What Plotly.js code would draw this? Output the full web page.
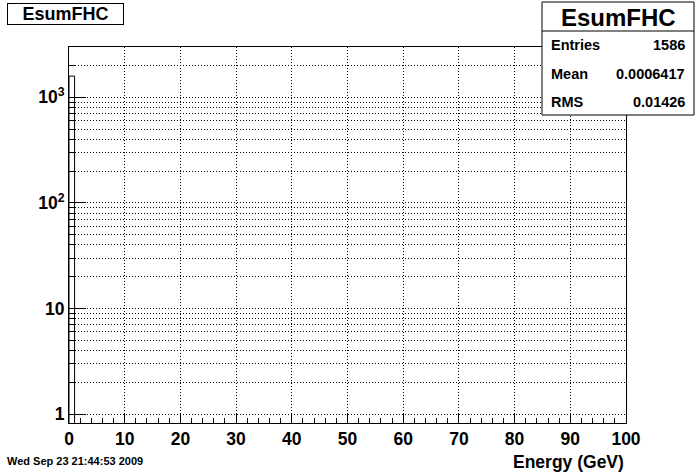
<!DOCTYPE html>
<html>
<head>
<meta charset="utf-8">
<script src="https://cdn.plot.ly/plotly-3.0.1.min.js"></script>
<style>html,body{margin:0;padding:0;background:#fff;}#chart{width:696px;height:472px;}</style>
</head>
<body>
<div id="chart"></div>
<script>
// ---- data ----
const histName = "EsumFHC";
const binCenters = [0.5];
const binCounts = [1586];
const binWidth = 1;
const xTickVals = [0, 10, 20, 30, 40, 50, 60, 70, 80, 90, 100];
const xTickText = ["0", "10", "20", "30", "40", "50", "60", "70", "80", "90", "100"];
const yTickVals = [1, 10, 100, 1000];
const yTickText = ["1", "10", "10<sup>2</sup>", "10<sup>3</sup>"];
const yMinorVals = [2,3,4,5,6,7,8,9,20,30,40,50,60,70,80,90,200,300,400,500,600,700,800,900,2000];
const statLabels = ["Entries", "Mean", "RMS"];
const statValues = ["1586", "0.0006417", "0.01426"];
const xTitle = "Energy (GeV)";
const dateText = "Wed Sep 23 21:44:53 2009";

// ---- layout helpers (pixel -> paper) ----
const W = 696, H = 472;
const L = 69, R = 626, T = 47, B = 423;
const px = x => (x - L) / (R - L);
const py = y => (B - y) / (B - T);
const FF = "Liberation Sans, Arial, Helvetica, sans-serif";
const DOT = "1px,2px";

const trace = {
  type: "bar",
  x: binCenters,
  y: binCounts,
  width: binWidth,
  marker: {color: "rgba(0,0,0,0)", line: {color: "black", width: 1}},
  hoverinfo: "x+y"
};

const annotations = [
  {xref: "paper", yref: "paper", x: px(65.5), y: py(14), xanchor: "center", yanchor: "middle",
   text: histName, showarrow: false, font: {family: FF, size: 18, color: "black", weight: "bold"},
   bordercolor: "black", borderwidth: 1, bgcolor: "white", width: 113, height: 18, borderpad: 1},
  {xref: "paper", yref: "paper", x: px(618), y: py(17), xanchor: "center", yanchor: "middle",
   text: histName, showarrow: false, font: {family: FF, size: 24, color: "black", weight: "bold"}},
  {xref: "paper", yref: "paper", x: 1, y: py(462), xanchor: "right", yanchor: "middle",
   text: xTitle, showarrow: false, font: {family: FF, size: 17.5, color: "black", weight: "bold"}},
  {xref: "paper", yref: "paper", x: px(5), y: py(461), xanchor: "left", yanchor: "middle",
   text: dateText, showarrow: false, font: {family: FF, size: 11, color: "black", weight: "bold"}}
];
const rowY = [45, 74, 102];
statLabels.forEach((lab, i) => {
  annotations.push({xref: "paper", yref: "paper", x: px(549), y: py(rowY[i]), xanchor: "left", yanchor: "middle",
    text: lab, showarrow: false, font: {family: FF, size: 14.5, color: "black", weight: "bold"}});
  annotations.push({xref: "paper", yref: "paper", x: px(687), y: py(rowY[i]), xanchor: "right", yanchor: "middle",
    text: statValues[i], showarrow: false, font: {family: FF, size: 14.5, color: "black", weight: "bold"}});
});

const shapes = [
  {type: "rect", xref: "paper", yref: "paper", x0: px(542), x1: px(694), y0: py(2), y1: py(115),
   line: {color: "black", width: 1}, fillcolor: "white", layer: "above"},
  {type: "line", xref: "paper", yref: "paper", x0: px(542), x1: px(694), y0: py(31), y1: py(31),
   line: {color: "black", width: 1}, layer: "above"}
];

const layout = {
  width: W, height: H,
  margin: {l: L, r: W - R, t: T, b: H - B, pad: 0},
  paper_bgcolor: "white", plot_bgcolor: "white",
  showlegend: false,
  font: {family: FF, color: "black"},
  xaxis: {
    range: [0, 100], tickmode: "array", tickvals: xTickVals, ticktext: xTickText,
    ticks: "inside", ticklen: 10, tickcolor: "black", tickwidth: 1,
    showline: true, linecolor: "black", linewidth: 1, mirror: true,
    showgrid: true, gridcolor: "black", gridwidth: 1, griddash: DOT,
    zeroline: false,
    tickfont: {family: FF, size: 17.5, color: "black", weight: "bold"},
    minor: {dtick: 2, tick0: 0, ticks: "inside", ticklen: 5, tickcolor: "black", showgrid: false}
  },
  yaxis: {
    type: "log", range: [-0.085, 3.476], tickmode: "array", tickvals: yTickVals, ticktext: yTickText,
    ticks: "inside", ticklen: 17, tickcolor: "black", tickwidth: 1,
    showline: true, linecolor: "black", linewidth: 1, mirror: true,
    showgrid: true, gridcolor: "black", gridwidth: 1, griddash: DOT,
    zeroline: false,
    tickfont: {family: FF, size: 17.5, color: "black", weight: "bold"},
    minor: {tickmode: "array", tickvals: yMinorVals, ticks: "inside", ticklen: 6, tickcolor: "black",
            showgrid: true, gridcolor: "black", gridwidth: 1, griddash: DOT}
  },
  annotations: annotations,
  shapes: shapes
};

Plotly.newPlot("chart", [trace], layout, {displayModeBar: false, staticPlot: true});
</script>
</body>
</html>
